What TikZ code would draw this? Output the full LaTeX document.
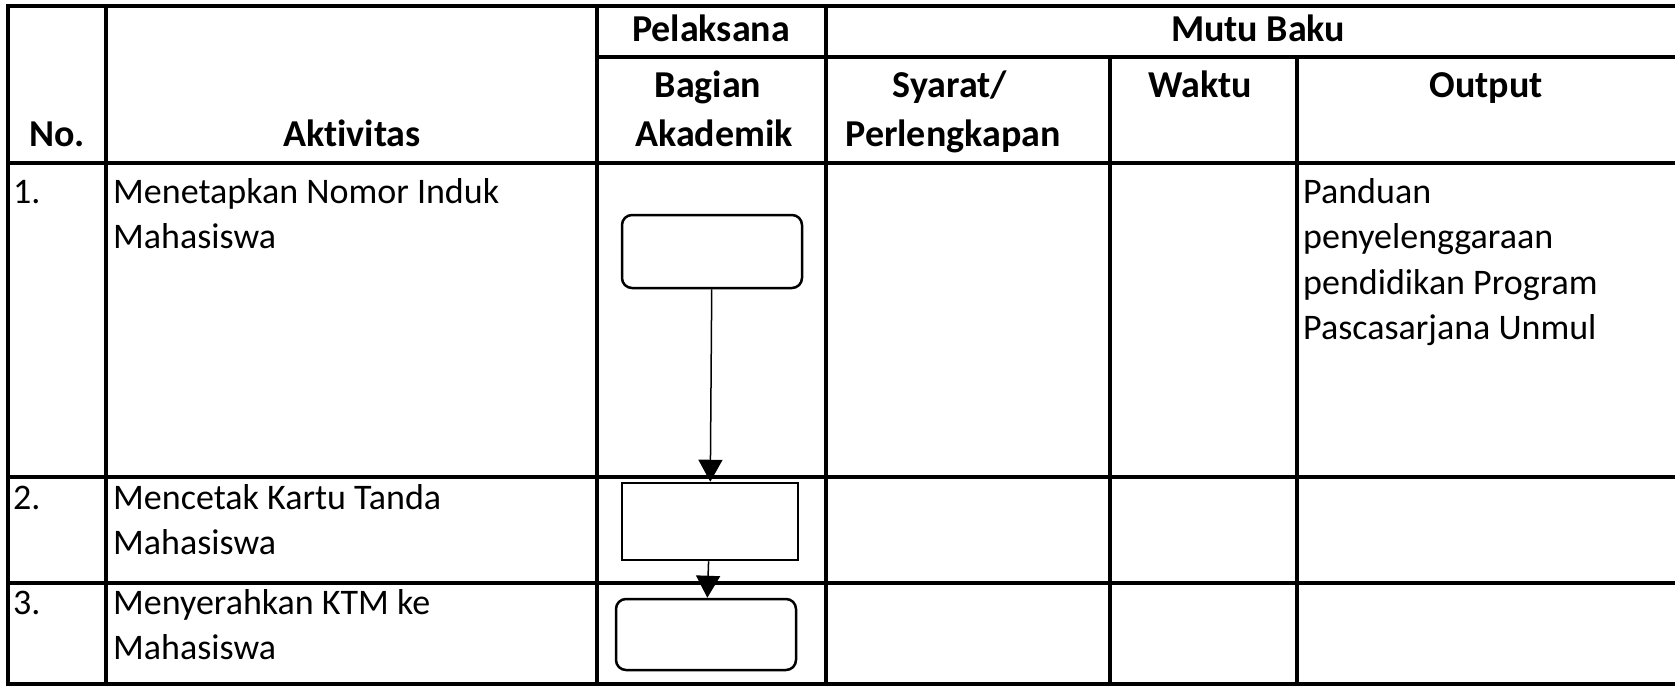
\documentclass[tikz,border=0pt]{standalone}
\usepackage{fontspec}
\setmainfont{Carlito}[Ligatures=NoCommon]
\usetikzlibrary{arrows.meta}

\newcommand\sopfont{\fontsize{36}{43}\selectfont}
\newcommand\sopbold{\fontsize{38}{45}\selectfont\bfseries}
\newcommand\sopskip{45.6}

\tikzset{
  gridline/.style={line width=4pt, line cap=rect},
  celltext/.style={anchor=base west, inner sep=0pt, font=\sopfont},
  headtext/.style={anchor=base, inner sep=0pt, font=\sopbold},
  process/.style={draw, line width=2.5pt, minimum width=178pt, minimum height=75pt, inner sep=0pt},
  terminal/.style={process, rounded corners=10pt},
  flow/.style={line width=1.5pt, -{Triangle[width=24pt, length=22pt]}}
}

\begin{document}
\begin{tikzpicture}[x=1pt, y=-1pt]
    \useasboundingbox (0,0) rectangle (1675,686);
    % table grid
    \draw[gridline] (8,6) -- (1680,6);
    \draw[gridline] (597,57) -- (1680,57);
    \foreach \y in {163,477,583,684}
      \draw[gridline] (8,\y) -- (1680,\y);
    \foreach \x in {8,106,597,826}
      \draw[gridline] (\x,6) -- (\x,684);
    \foreach \x in {1110,1297}
      \draw[gridline] (\x,57) -- (\x,684);
    % header
    \node[headtext] (hdpel) at (711,41) {Pelaksana};
    \node[headtext] (hdmutu) at (1258,41) {Mutu Baku};
    \node[headtext] (hdbag) at (708,97) {Bagian};
    \node[headtext] (hdaka) at (714,146) {Akademik};
    \node[headtext] (hdsya) at (950,97) {Syarat/};
    \node[headtext] (hdper) at (953,146) {Perlengkapan};
    \node[headtext] (hdwak) at (1200,97) {Waktu};
    \node[headtext] (hdout) at (1486,97) {Output};
    \node[headtext] (hdno) at (57,146) {No.};
    \node[headtext] (hdakt) at (352,146) {Aktivitas};
    % row 1
    \node[celltext] (no1) at (13,203) {1.};
    \node[celltext] (akt1a) at (113,203) {Menetapkan Nomor Induk};
    \node[celltext] (akt1b) at (113,203+\sopskip) {Mahasiswa};
    \foreach \t [count=\i from 0] in {Panduan, penyelenggaraan, pendidikan Program, Pascasarjana Unmul}
      \node[celltext] (out1\i) at (1303,{203+\sopskip*\i}) {\t};
    % row 2
    \node[celltext] (no2) at (13,509) {2.};
    \node[celltext] (akt2a) at (113,509) {Mencetak Kartu Tanda};
    \node[celltext] (akt2b) at (113,509+\sopskip) {Mahasiswa};
    % row 3
    \node[celltext] (no3) at (13,614) {3.};
    \node[celltext] (akt3a) at (113,614) {Menyerahkan KTM ke};
    \node[celltext] (akt3b) at (113,614+\sopskip) {Mahasiswa};
    % flow
    \node[terminal, minimum width=180pt, minimum height=73pt] (start) at (712,251.5) {};
    \node[process, minimum width=176pt, minimum height=77pt] (cetak) at (710,521.5) {};
    \node[terminal, minimum width=180pt, minimum height=71pt] (serah) at (706,634.5) {};
    \draw[flow] (start) -- (cetak);
    \draw[flow] (cetak) -- (serah);
\end{tikzpicture}
\end{document}
